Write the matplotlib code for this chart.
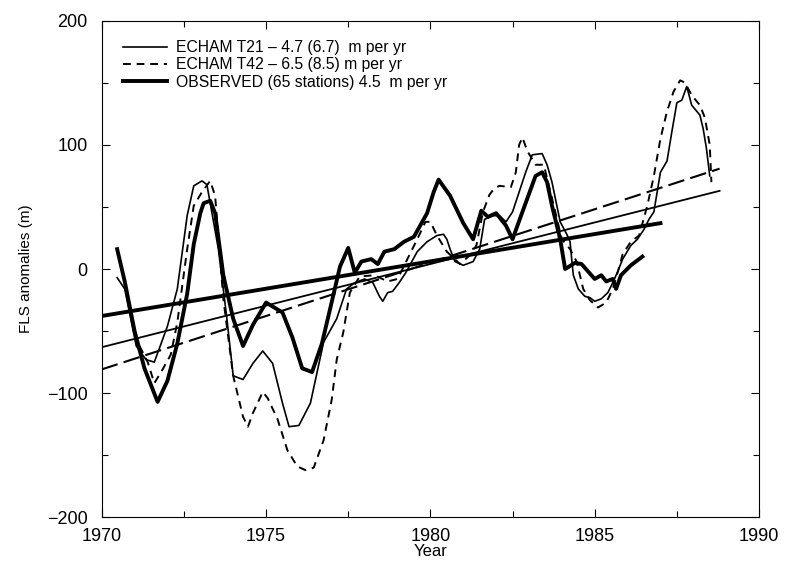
import matplotlib
matplotlib.use('Agg')
import matplotlib.pyplot as plt
import numpy as np

plt.rcParams['font.family'] = ['Liberation Sans', 'DejaVu Sans']

# OBSERVED (65 stations)
obs_year = [1970.47, 1970.7, 1971.0, 1971.3, 1971.7, 1972.0, 1972.3, 1972.6, 1972.8, 1973.0,
            1973.1, 1973.3, 1973.45, 1973.7, 1974.0, 1974.3, 1974.6, 1975.0, 1975.5, 1975.8,
            1976.1, 1976.4, 1976.7, 1976.95, 1977.25, 1977.5, 1977.7, 1977.9, 1978.2, 1978.4,
            1978.6, 1978.9, 1979.2, 1979.5, 1979.9, 1980.1, 1980.25, 1980.6, 1981.0, 1981.3,
            1981.55, 1981.75, 1982.0, 1982.3, 1982.5, 1982.8, 1983.2, 1983.4, 1983.55, 1983.7,
            1983.95, 1984.1, 1984.4, 1984.6, 1984.8, 1985.0, 1985.2, 1985.35, 1985.55, 1985.65,
            1985.8, 1986.1, 1986.45]
obs_val = [16, -10, -50, -80, -107, -90, -60, -20, 20, 45,
           53, 55, 45, -5, -40, -62, -45, -27, -35, -55,
           -80, -83, -60, -32, 2, 17, -3, 6, 8, 4,
           14, 16, 22, 26, 45, 62, 72, 59, 37, 24,
           47, 42, 45, 35, 24, 46, 75, 78, 70, 51,
           24, 0, 5, 4, -2, -8, -5, -10, -8, -16,
           -5, 3, 10]

# ECHAM T21
t21_year = [1970.47, 1970.7, 1971.05, 1971.35, 1971.6, 1972.0, 1972.3, 1972.6, 1972.8, 1973.05,
            1973.2, 1973.55, 1973.8, 1974.0, 1974.3, 1974.6, 1974.9, 1975.2, 1975.5, 1975.7,
            1976.0, 1976.35, 1976.75, 1977.15, 1977.45, 1977.7, 1978.0, 1978.25, 1978.45, 1978.55,
            1978.7, 1978.85, 1979.05, 1979.25, 1979.6, 1979.9, 1980.2, 1980.4, 1980.5, 1980.6,
            1980.75, 1981.0, 1981.3, 1981.5, 1981.65, 1981.9, 1982.1, 1982.3, 1982.5, 1982.7,
            1982.9, 1983.1, 1983.4, 1983.55, 1983.7, 1983.95, 1984.15, 1984.25, 1984.3, 1984.35,
            1984.5, 1984.7, 1984.85, 1985.0, 1985.2, 1985.4, 1985.55, 1985.7, 1985.85, 1986.1,
            1986.3, 1986.5, 1986.65, 1986.8, 1987.0, 1987.2, 1987.35, 1987.5, 1987.65, 1987.8,
            1987.95, 1988.2, 1988.3, 1988.4, 1988.5]
t21_val = [-7, -16, -62, -73, -75, -46, -16, 43, 67, 71,
           68, 16, -38, -86, -89, -76, -66, -76, -108, -127,
           -126, -108, -59, -40, -16, -11, -8, -11, -22, -26,
           -19, -18, -11, -3, 14, 22, 27, 28, 24, 16,
           6, 3, 6, 16, 40, 43, 43, 38, 46, 62,
           78, 92, 93, 84, 70, 38, 28, 22, 8, -5,
           -16, -22, -23, -26, -24, -19, -11, -2, 8, 19,
           24, 32, 40, 46, 78, 87, 111, 134, 136, 147,
           132, 124, 113, 97, 75]

# ECHAM T42
t42_year = [1971.15, 1971.4, 1971.6, 1971.85, 1972.1, 1972.3, 1972.6, 1972.8, 1973.05, 1973.3,
            1973.45, 1973.7, 1974.0, 1974.3, 1974.45, 1974.6, 1974.9, 1975.05, 1975.35, 1975.65,
            1975.95, 1976.2, 1976.45, 1976.75, 1977.0, 1977.15, 1977.35, 1977.55, 1977.85, 1978.3,
            1978.7, 1979.0, 1979.3, 1979.6, 1979.85, 1980.0, 1980.2, 1980.5, 1980.9, 1981.2,
            1981.4, 1981.6, 1981.8, 1981.95, 1982.1, 1982.45, 1982.6, 1982.7, 1982.8, 1982.95,
            1983.2, 1983.45, 1983.7, 1984.0, 1984.25, 1984.45, 1984.65, 1984.85, 1985.1, 1985.35,
            1985.55, 1985.75, 1985.85, 1986.1, 1986.35, 1986.6, 1986.8, 1987.0, 1987.2, 1987.4,
            1987.6, 1987.75, 1987.95, 1988.2, 1988.35, 1988.5, 1988.55]
t42_val = [-62, -75, -92, -81, -69, -43, 16, 51, 62, 71,
           59, -24, -86, -119, -127, -116, -99, -104, -121, -146,
           -159, -162, -160, -138, -105, -73, -51, -19, -6, -5,
           -10, -8, 8, 24, 38, 38, 27, 14, 4, 11,
           19, 46, 60, 65, 67, 66, 78, 100, 106, 95,
           84, 84, 57, 24, 16, 6, -16, -25, -31, -27,
           -16, 2, 12, 22, 27, 51, 75, 105, 127, 143,
           152, 150, 140, 132, 122, 100, 70]

# linear trends: (slope m/yr, zero-crossing year, start, end)
obs_trend = (4.4, 1978.6, 1970.0, 1987.0)
t21_trend = (6.7, 1979.4, 1970.0, 1988.8)
t42_trend = (8.6, 1979.4, 1970.0, 1988.8)


def trend_line(tr):
    slope, x0, xa, xb = tr
    xs = np.array([xa, xb])
    return xs, slope * (xs - x0)


fig = plt.figure(figsize=(7.91, 5.62), dpi=100)
ax = fig.add_axes([0.1286, 0.0795, 0.831, 0.8836])

ax.plot(t21_year, t21_val, color='black', lw=1.2, label='ECHAM T21 \u2013 4.7 (6.7)  m per yr')
ax.plot(t42_year, t42_val, color='black', lw=1.4, ls=(0, (4, 3)), label='ECHAM T42 \u2013 6.5 (8.5) m per yr')
ax.plot(obs_year, obs_val, color='black', lw=2.8, label='OBSERVED (65 stations) 4.5  m per yr')

x, y = trend_line(obs_trend)
ax.plot(x, y, color='black', lw=2.8)
x, y = trend_line(t21_trend)
ax.plot(x, y, color='black', lw=1.3)
x, y = trend_line(t42_trend)
ax.plot(x, y, color='black', lw=1.5, ls=(0, (8, 3)))

ax.set_xlim(1970, 1990)
ax.set_ylim(-200, 200)
ax.set_xticks([1970, 1975, 1980, 1985, 1990])
ax.set_xticks(np.arange(1970, 1990.1, 2.5), minor=True)
ax.set_yticks([-200, -100, 0, 100, 200])
ax.set_yticks(np.arange(-200, 201, 50), minor=True)
ax.set_yticklabels(['\u2212200', '\u2212100', '0', '100', '200'])
ax.tick_params(which='both', direction='in', top=True, right=True, labelsize=13, width=0.8)
ax.tick_params(which='major', length=6)
ax.tick_params(which='minor', length=4)
ax.tick_params(axis='x', which='major', pad=8)
ax.tick_params(axis='y', which='major', pad=10)
for s in ax.spines.values():
    s.set_linewidth(0.8)

ax.set_xlabel('Year', fontsize=12, labelpad=-1)
ax.set_ylabel('FLS anomalies (m)', fontsize=11, labelpad=10)

leg = ax.legend(loc='upper left', frameon=False, fontsize=11.3, handlelength=2.8,
                labelspacing=0.15, handletextpad=0.6, borderaxespad=0, borderpad=0,
                bbox_to_anchor=(0.032, 0.961))

fig.savefig('out.png', dpi=100)
